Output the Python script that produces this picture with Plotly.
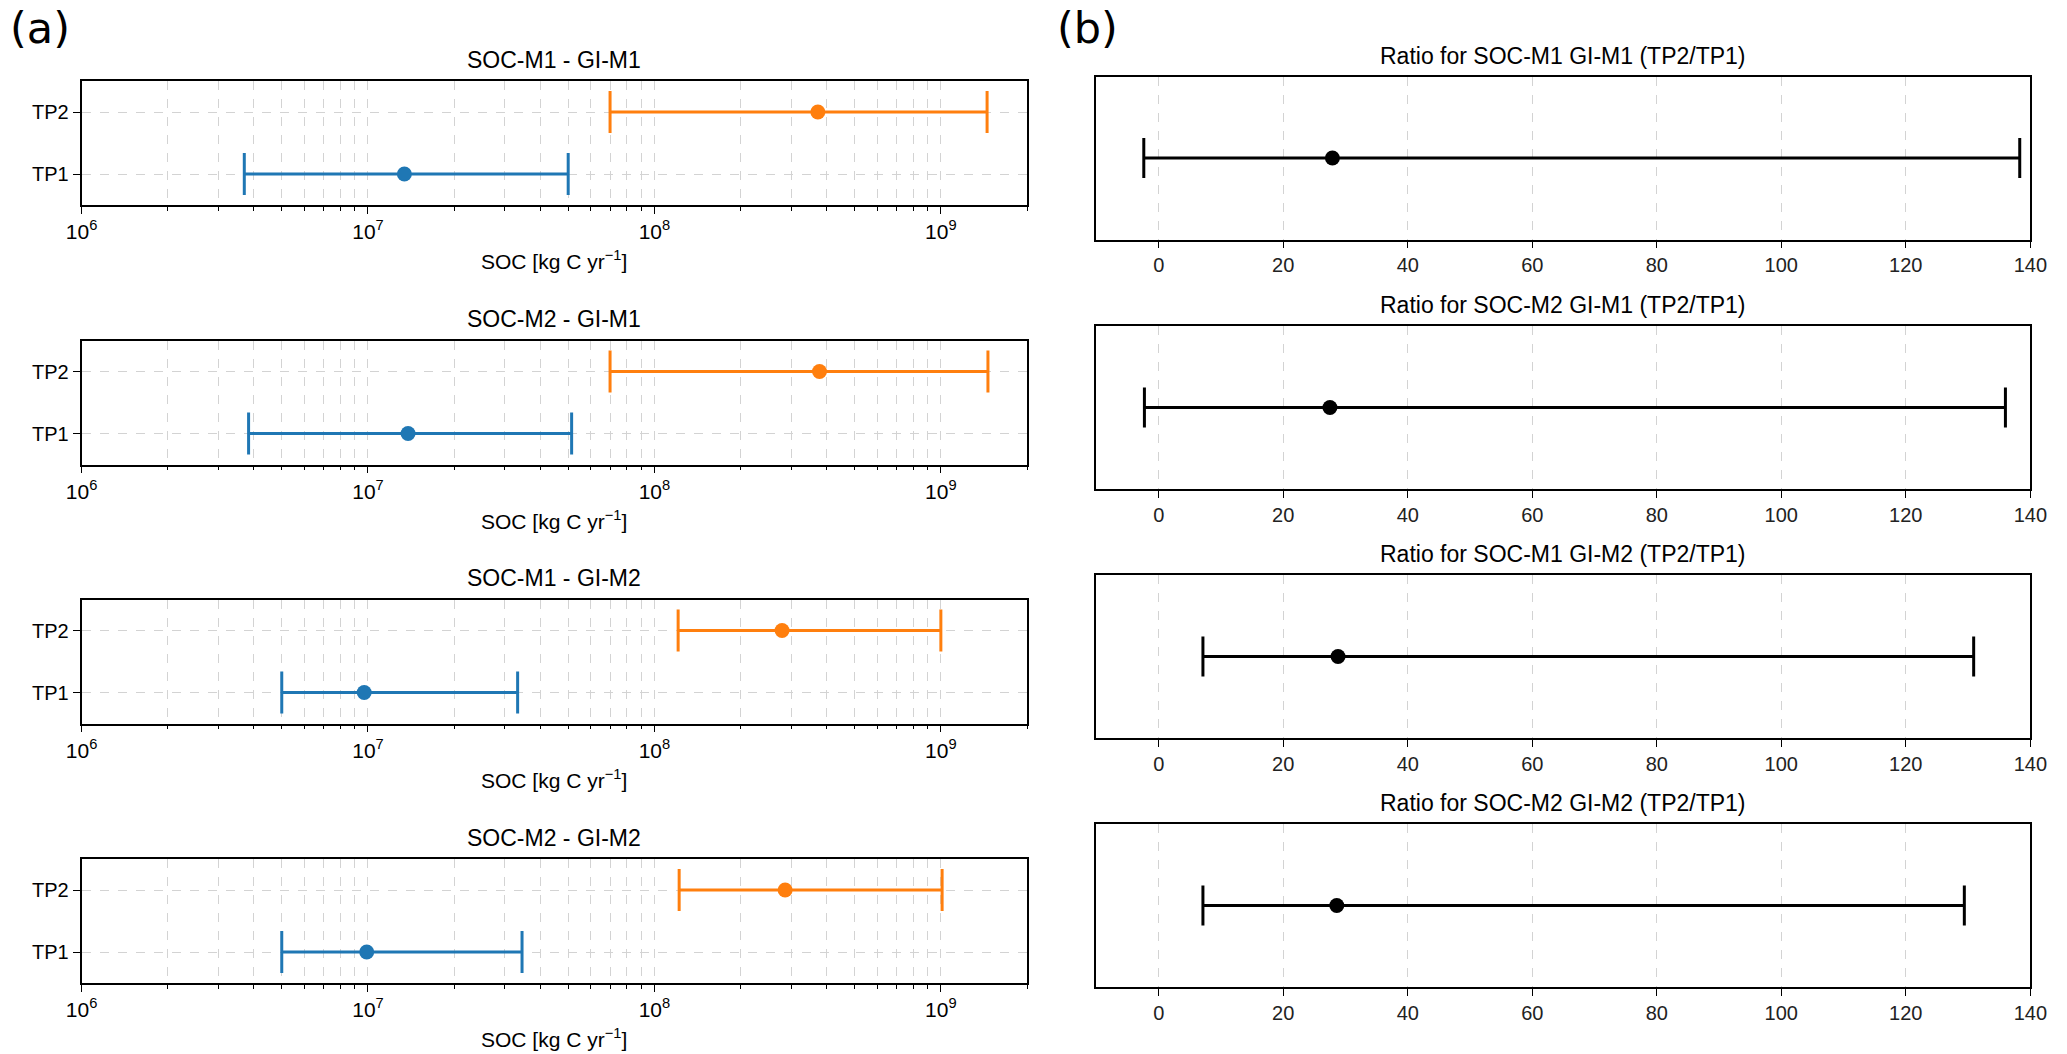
import numpy as np
import plotly.graph_objects as go

# panel (a): SOC per time point, one row per model combination
combos = ["SOC-M1 - GI-M1", "SOC-M2 - GI-M1", "SOC-M1 - GI-M2", "SOC-M2 - GI-M2"]
time_points = ["TP1", "TP2"]

tp1_mean = [1.34e7, 1.38e7, 9.7e6, 9.9e6]
tp1_low = [3.7e6, 3.83e6, 5.0e6, 5.0e6]
tp1_high = [5.0e7, 5.14e7, 3.33e7, 3.45e7]

tp2_mean = [3.72e8, 3.77e8, 2.79e8, 2.86e8]
tp2_low = [7.0e7, 7.0e7, 1.21e8, 1.22e8]
tp2_high = [1.45e9, 1.46e9, 1.0e9, 1.01e9]

# panel (b): ratio TP2/TP1
ratio_titles = [
    "Ratio for SOC-M1 GI-M1 (TP2/TP1)",
    "Ratio for SOC-M2 GI-M1 (TP2/TP1)",
    "Ratio for SOC-M1 GI-M2 (TP2/TP1)",
    "Ratio for SOC-M2 GI-M2 (TP2/TP1)",
]
ratio_mean = [27.9, 27.5, 28.8, 28.6]
ratio_low = [-2.4, -2.3, 7.1, 7.1]
ratio_high = [138.3, 136.0, 130.9, 129.4]

log_major = [1e6, 1e7, 1e8, 1e9]
log_major_text = ["10<sup>6</sup>", "10<sup>7</sup>", "10<sup>8</sup>", "10<sup>9</sup>"]
ratio_ticks = [0, 20, 40, 60, 80, 100, 120, 140]

W, H = 2067, 1054
BLUE, ORANGE = "#1f77b4", "#ff7f0e"
FONT = "Liberation Sans, Arial, sans-serif"
GRID = "#d3d3d3"

# frame positions in pixels (left, right) and (top, height)
left_x = (66.6, 1027.5)
right_x = (1098, 2047)
left_tops = [81, 340.5, 599.5, 859]
left_h = 124
right_tops = [76.5, 326, 575, 824]
right_h = 163

minor_vals = [k * 10.0 ** e for e in range(6, 10) for k in range(2, 10) if k * 10.0 ** e <= 2e9]


def xdom(px):
    return [px[0] / W, px[1] / W]


def ydom(top, h):
    return [1 - (top + h) / H, 1 - top / H]


fig = go.Figure()
annotations = []

for i in range(4):
    # ---- left column: SOC on log axis ----
    n = 2 * i + 1
    xa, ya = f"x{n}", f"y{n}"
    for name, mean, low, high, col in [
        ("TP1", tp1_mean, tp1_low, tp1_high, BLUE),
        ("TP2", tp2_mean, tp2_low, tp2_high, ORANGE),
    ]:
        fig.add_trace(go.Scatter(
            x=[mean[i]], y=[name], xaxis=xa, yaxis=ya, mode="markers",
            marker=dict(color=col, size=15),
            error_x=dict(type="data", symmetric=False,
                         array=[high[i] - mean[i]], arrayminus=[mean[i] - low[i]],
                         color=col, thickness=3, width=21),
            showlegend=False,
        ))
    fig.layout[f"xaxis{n}"] = dict(
        domain=xdom(left_x), anchor=ya, type="log",
        range=[6, np.log10(2e9)],
        tickvals=log_major, ticktext=log_major_text,
        ticks="outside", ticklen=7, tickwidth=1.2, tickcolor="black",
        showline=True, mirror=True, linecolor="black", linewidth=1.8,
        showgrid=True, gridcolor=GRID, griddash="dash", gridwidth=1.2,
        minor=dict(tickvals=minor_vals, ticks="outside", ticklen=4, tickcolor="black",
                   showgrid=True, gridcolor=GRID, griddash="dash", gridwidth=1.2),
        tickfont=dict(family=FONT, size=21, color="black"),
        zeroline=False,
    )
    fig.layout[f"yaxis{n}"] = dict(
        domain=ydom(left_tops[i], left_h), anchor=xa, type="category",
        categoryorder="array", categoryarray=time_points, range=[-0.5, 1.5],
        ticks="outside", ticklen=7, tickcolor="black",
        showline=True, mirror=True, linecolor="black", linewidth=1.8,
        showgrid=True, gridcolor=GRID, griddash="dash", gridwidth=1.2,
        tickfont=dict(family=FONT, size=20, color="black"),
    )
    cx = (left_x[0] + left_x[1]) / 2 / W
    annotations.append(dict(
        text=combos[i], xref="paper", yref="paper", x=cx, y=1 - left_tops[i] / H,
        xanchor="center", yanchor="bottom", yshift=6, showarrow=False,
        font=dict(family=FONT, size=23, color="black"),
    ))
    annotations.append(dict(
        text="SOC [kg C yr<sup>−1</sup>]", xref="paper", yref="paper", x=cx,
        y=1 - (left_tops[i] + left_h) / H, xanchor="center", yanchor="middle",
        yshift=-55, showarrow=False, font=dict(family=FONT, size=21, color="black"),
    ))

    # ---- right column: ratio ----
    m = 2 * i + 2
    xb, yb = f"x{m}", f"y{m}"
    fig.add_trace(go.Scatter(
        x=[ratio_mean[i]], y=[0], xaxis=xb, yaxis=yb, mode="markers",
        marker=dict(color="black", size=15),
        error_x=dict(type="data", symmetric=False,
                     array=[ratio_high[i] - ratio_mean[i]],
                     arrayminus=[ratio_mean[i] - ratio_low[i]],
                     color="black", thickness=3, width=20),
        showlegend=False,
    ))
    fig.layout[f"xaxis{m}"] = dict(
        domain=xdom(right_x), anchor=yb, range=[-10, 140],
        tickvals=ratio_ticks, ticks="outside", ticklen=7, tickcolor="black",
        showline=True, mirror=True, linecolor="black", linewidth=1.8,
        showgrid=True, gridcolor=GRID, griddash="dash", gridwidth=1.2,
        tickfont=dict(family=FONT, size=20, color="#222222"),
        zeroline=False,
    )
    fig.layout[f"yaxis{m}"] = dict(
        domain=ydom(right_tops[i], right_h), anchor=xb, range=[-0.5, 0.5],
        showticklabels=False, ticks="", showgrid=False, zeroline=False,
        showline=True, mirror=True, linecolor="black", linewidth=1.8,
    )
    annotations.append(dict(
        text=ratio_titles[i], xref="paper", yref="paper",
        x=(right_x[0] + right_x[1]) / 2 / W, y=1 - right_tops[i] / H,
        xanchor="center", yanchor="bottom", yshift=6, showarrow=False,
        font=dict(family=FONT, size=23, color="black"),
    ))

# panel letters
annotations.append(dict(text="(a)", xref="paper", yref="paper", x=0.0, y=1 - 28 / H,
                        xanchor="left", yanchor="middle", xshift=-8, showarrow=False,
                        font=dict(family="DejaVu Sans, sans-serif", size=43, color="black")))
annotations.append(dict(text="(b)", xref="paper", yref="paper", x=1060 / W, y=1 - 28 / H,
                        xanchor="left", yanchor="middle", xshift=-4, showarrow=False,
                        font=dict(family="DejaVu Sans, sans-serif", size=43, color="black")))

fig.update_layout(
    width=W, height=H,
    margin=dict(l=0, r=0, t=0, b=0),
    paper_bgcolor="white", plot_bgcolor="white",
    annotations=annotations,
    showlegend=False,
)

# drop the default body margin so the figure fills the window exactly
fig.write_html("out.html", config={"displayModeBar": False},
               post_script="document.body.style.margin = '0';")
